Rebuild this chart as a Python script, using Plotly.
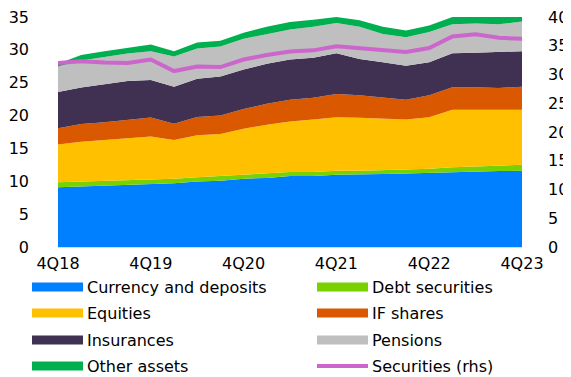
import plotly.graph_objects as go

quarters = ["4Q18", "1Q19", "2Q19", "3Q19", "4Q19", "1Q20", "2Q20", "3Q20", "4Q20",
            "1Q21", "2Q21", "3Q21", "4Q21", "1Q22", "2Q22", "3Q22", "4Q22",
            "1Q23", "2Q23", "3Q23", "4Q23"]
tick_labels = ["4Q18", "4Q19", "4Q20", "4Q21", "4Q22", "4Q23"]

currency = [9.1, 9.2, 9.33, 9.45, 9.6, 9.7, 9.97, 10.1, 10.4, 10.5, 10.8,
            10.8, 11.0, 11.0, 11.1, 11.2, 11.3, 11.45, 11.5, 11.55, 11.6]
debt = [0.75, 0.75, 0.7, 0.7, 0.7, 0.7, 0.65, 0.7, 0.6, 0.7, 0.6,
        0.6, 0.6, 0.6, 0.65, 0.6, 0.6, 0.7, 0.75, 0.85, 0.9]
equities = [5.73, 6.08, 6.27, 6.4, 6.5, 5.9, 6.4, 6.4, 7.0, 7.4, 7.7,
            8.0, 8.15, 8.05, 7.75, 7.6, 7.85, 8.75, 8.65, 8.5, 8.4]
if_shares = [2.5, 2.7, 2.7, 2.75, 2.9, 2.45, 2.75, 2.8, 3.0, 3.2, 3.3,
             3.3, 3.55, 3.45, 3.2, 3.0, 3.35, 3.4, 3.4, 3.3, 3.5]
insurances = [5.5, 5.55, 5.75, 5.95, 5.7, 5.65, 5.85, 5.95, 6.0, 6.1, 6.15,
              6.1, 6.2, 5.5, 5.4, 5.2, 5.0, 5.2, 5.25, 5.45, 5.4]
pensions = [3.9, 4.1, 4.15, 4.2, 4.4, 4.6, 4.6, 4.55, 4.7, 4.5, 4.55,
            4.7, 4.6, 4.9, 4.3, 4.3, 4.6, 4.4, 4.45, 4.25, 4.5]
other = [0.4, 0.85, 0.9, 0.9, 1.0, 0.8, 0.9, 0.9, 0.9, 1.1, 1.15,
         1.1, 0.9, 1.0, 1.1, 1.05, 1.0, 1.1, 1.0, 1.1, 0.7]
securities = [32.0, 32.3, 32.1, 32.0, 32.6, 30.6, 31.4, 31.3, 32.6, 33.4, 34.0,
              34.2, 34.9, 34.6, 34.3, 33.9, 34.6, 36.6, 37.0, 36.4, 36.2]

series_names = ["Currency and deposits", "Debt securities", "Equities", "IF shares",
                "Insurances", "Pensions", "Other assets"]
series_values = [currency, debt, equities, if_shares, insurances, pensions, other]
series_colors = ["#0080FF", "#7AD100", "#FFC000", "#DA5900", "#403152", "#BFBFBF", "#00B050"]
line_name = "Securities (rhs)"
line_color = "#CC66CC"

FONT = "DejaVu Sans, Arial, sans-serif"
OFF = 8  # page body margin of the browser
W, H = 571 - OFF, 377 - OFF
ML, MR, MT, MB = 50, 49, 9, 130
PW, PH = W - ML - MR, H - MT - MB


def px_x(px):
    # reference-window pixel -> paper coordinate
    return (px - OFF - ML) / PW


def px_y(py):
    return (H - MB - (py - OFF)) / PH


fig = go.Figure()

for name, vals, col in zip(series_names, series_values, series_colors):
    fig.add_trace(go.Scatter(
        x=quarters, y=vals, name=name, stackgroup="one", mode="lines",
        line=dict(width=0, color=col), fillcolor=col, showlegend=False))

fig.add_trace(go.Scatter(
    x=quarters, y=securities, name=line_name, mode="lines",
    line=dict(width=4, color=line_color), yaxis="y2", showlegend=False))

# legend drawn manually (2 columns x 4 rows)
legend_names = series_names + [line_name]
legend_colors = series_colors + [line_color]
col_x = [32, 317]
row_y = [287, 313, 340, 366]
shapes = []
annotations = []
for i, (name, col) in enumerate(zip(legend_names, legend_colors)):
    cx = col_x[i % 2]
    ry = row_y[i // 2]
    is_line = (name == line_name)
    shapes.append(dict(type="line", xref="paper", yref="paper",
                       x0=px_x(cx), x1=px_x(cx + 51), y0=px_y(ry), y1=px_y(ry),
                       line=dict(color=col, width=4 if is_line else 9)))
    annotations.append(dict(xref="paper", yref="paper", x=px_x(cx + 53), y=px_y(ry),
                            xanchor="left", yanchor="middle", text=name, showarrow=False,
                            font=dict(family=FONT, size=16, color="#000000")))

fig.update_layout(
    width=W, height=H,
    margin=dict(l=ML, r=MR, t=MT, b=MB, autoexpand=False),
    paper_bgcolor="white", plot_bgcolor="white",
    font=dict(family=FONT, size=16, color="#000000"),
    showlegend=False,
    shapes=shapes, annotations=annotations,
    xaxis=dict(type="category", categoryorder="array", categoryarray=quarters,
               range=[0, len(quarters) - 1],
               tickvals=tick_labels, ticktext=tick_labels,
               showgrid=False, zeroline=False, showline=True, linecolor="#D0DCE8",
               linewidth=1, ticks="", tickfont=dict(size=16), ticklabelstandoff=2,
               ticklabeloverflow="allow"),
    yaxis=dict(range=[0, 35], dtick=5, showgrid=False, zeroline=False,
               showline=False, ticks="", tickfont=dict(size=16),
               ticklabelstandoff=28, ticklabeloverflow="allow"),
    yaxis2=dict(range=[0, 40], dtick=5, overlaying="y", side="right",
                showgrid=False, zeroline=False, showline=False, ticks="",
                tickfont=dict(size=16), ticklabelstandoff=25,
                ticklabeloverflow="allow"),
)

fig.write_html("out.html")
